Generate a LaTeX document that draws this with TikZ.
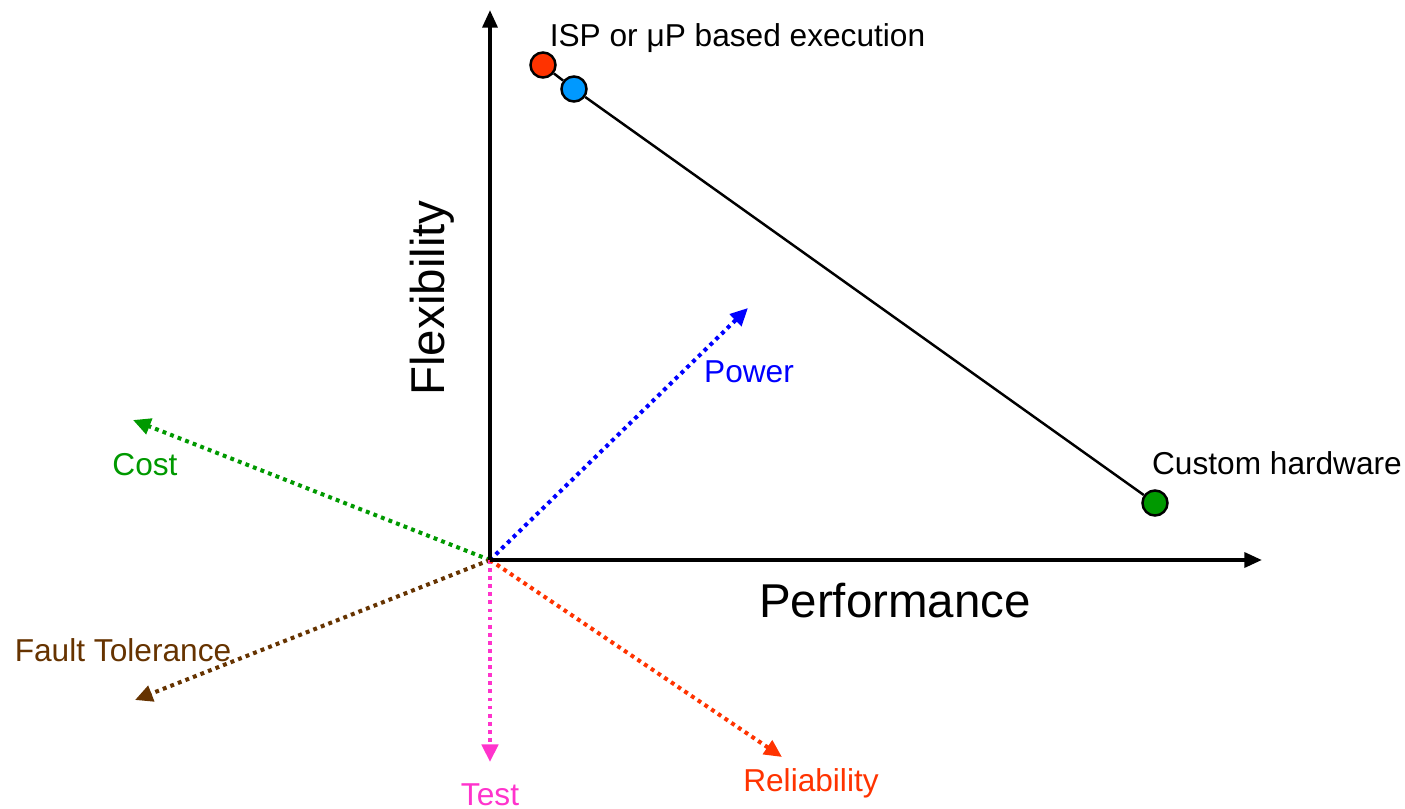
\documentclass[tikz,border=0pt]{standalone}
\usepackage{fontspec}
\setmainfont{Liberation Sans}
\usetikzlibrary{arrows.meta}
\definecolor{ispred}{HTML}{FF3300}
\definecolor{upblue}{HTML}{0099FF}
\definecolor{hwgreen}{HTML}{009900}
\definecolor{ftbrown}{HTML}{663300}
\definecolor{testpink}{HTML}{FF33CC}
\begin{document}
\begin{tikzpicture}[x=0.01cm, y=0.01cm,
	dotarr/.style={line width=1.15pt, dash pattern=on 1.1pt off 1.2pt, -{Triangle[length=5pt,width=4.6pt]}},
	axis/.style={line width=1.1pt, -{Triangle[length=5pt,width=4.2pt]}},
	dot/.style={circle, draw=black, line width=0.7pt, minimum size=0.25cm, inner sep=0pt},
	small/.style={font=\fontsize{9}{11}\selectfont},
	big/.style={font=\fontsize{13.5}{16}\selectfont}]
	\useasboundingbox (-490,-248) rectangle (915,560);
	
	% Origine et axes
	\coordinate (O) at (0,0);
	\coordinate (Ytop) at (0,550);
	\coordinate (Xend) at (772,0);
	
	% Extremites des fleches pointillees
	\coordinate (Pw) at (258,252);
	\coordinate (Co) at (-357,140);
	\coordinate (Ft) at (-355,-140);
	\coordinate (Te) at (0,-202);
	\coordinate (Re) at (292,-197);
	
	\draw[dotarr, blue] (O) -- (Pw);
	\draw[dotarr, hwgreen] (O) -- (Co);
	\draw[dotarr, ftbrown] (O) -- (Ft);
	\draw[dotarr, testpink] (O) -- (Te);
	\draw[dotarr, ispred] (O) -- (Re);
	
	\draw[axis] (O) -- (Ytop);
	\draw[axis] (O) -- (Xend);
	
	% Points de conception
	\node[dot, fill=ispred] (isp) at (53,495) {};
	\node[dot, fill=upblue] (up) at (84,471) {};
	\node[dot, fill=hwgreen] (hw) at (665,57) {};
	\draw[line width=0.7pt] (isp) -- (up) -- (hw);
	
	% Textes
	\node[small] (ispl) at (247.5,522) {ISP or μP based execution};
	\node[small] (hwl) at (787,97) {Custom hardware};
	\node[big, rotate=90] (flex) at (-58,262) {Flexibility};
	\node[big] (perf) at (405,-41) {Performance};
	\node[small, blue] (pwl) at (259,188) {Power};
	\node[small, hwgreen] (col) at (-345,95) {Cost};
	\node[small, ftbrown] (ftl) at (-367,-90) {Fault Tolerance};
	\node[small, testpink] (tel) at (0,-235) {Test};
	\node[small, ispred] (rel) at (321,-223) {Reliability};
\end{tikzpicture}
\end{document}
